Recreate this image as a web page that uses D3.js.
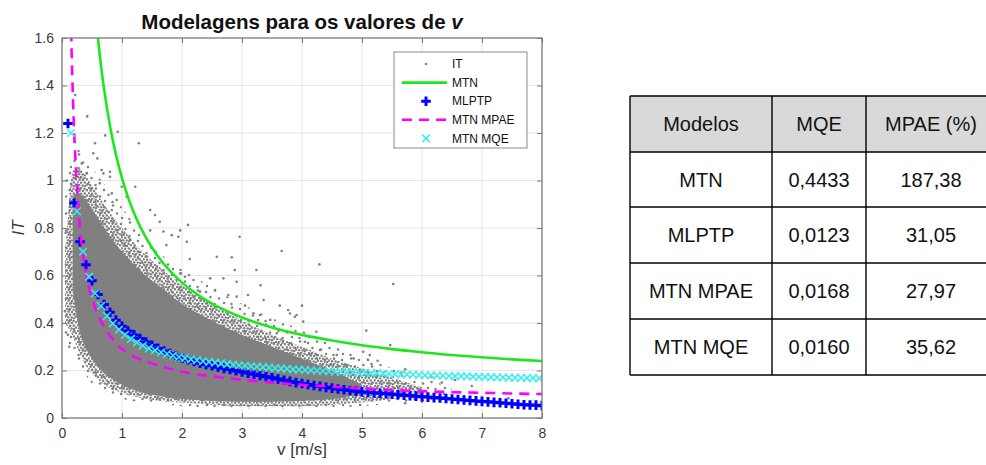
<!DOCTYPE html>
<html>
<head>
<meta charset="utf-8">
<script src="https://cdn.jsdelivr.net/npm/d3@7"></script>
<style>
  body { margin: 0; background: #fff; }
  svg { display: block; font-family: "Liberation Sans", Arial, Helvetica, sans-serif; }
</style>
</head>
<body>
<svg id="chart" width="986" height="465"></svg>
<script>
// ---------- axis ticks ----------
const xTicks = [0, 1, 2, 3, 4, 5, 6, 7, 8];
const yTicks = [0, 0.2, 0.4, 0.6, 0.8, 1, 1.2, 1.4, 1.6];
const yTickLabels = ["0", "0.2", "0.4", "0.6", "0.8", "1", "1.2", "1.4", "1.6"];

// ---------- IT measurements ----------
// thin outer fringe of the cloud
const fringeV    = [0.03, 0.10, 0.15, 0.25, 0.40, 0.60, 0.90, 1.20, 1.60, 2.00, 2.50, 3.00, 3.50, 4.00, 4.50, 5.00, 5.50, 6.00, 6.50];
const fringeLow  = [0.30, 0.30, 0.30, 0.25, 0.18, 0.12, 0.09, 0.07, 0.06, 0.05, 0.045, 0.04, 0.04, 0.04, 0.045, 0.05, 0.06, 0.07, 0.09];
const fringeHigh = [0.90, 1.00, 1.10, 1.15, 1.10, 1.02, 0.92, 0.82, 0.70, 0.63, 0.55, 0.48, 0.42, 0.37, 0.31, 0.26, 0.21, 0.17, 0.13];
// envelope of the bulk of the cloud
const cloudV    = [0.05, 0.10, 0.15, 0.20, 0.30, 0.40, 0.50, 0.70, 1.00, 1.30, 1.70, 2.00, 2.50, 3.00, 3.50, 4.00, 4.50, 5.00, 5.50, 6.00];
const cloudLow  = [0.40, 0.38, 0.36, 0.33, 0.27, 0.22, 0.19, 0.14, 0.105, 0.085, 0.07, 0.065, 0.055, 0.05, 0.05, 0.05, 0.055, 0.065, 0.08, 0.10];
const cloudHigh = [0.70, 0.85, 1.00, 1.05, 1.05, 1.02, 0.98, 0.90, 0.80, 0.71, 0.62, 0.56, 0.48, 0.41, 0.35, 0.30, 0.25, 0.21, 0.17, 0.13];
// densest part of the cloud
const coreV    = [0.18, 0.25, 0.35, 0.50, 0.70, 1.00, 1.30, 1.70, 2.00, 2.50, 3.00, 3.50, 4.00, 4.50, 5.00];
const coreLow  = [0.55, 0.42, 0.32, 0.25, 0.19, 0.14, 0.11, 0.09, 0.08, 0.072, 0.068, 0.068, 0.072, 0.08, 0.10];
const coreHigh = [0.90, 0.95, 0.93, 0.88, 0.80, 0.70, 0.62, 0.54, 0.48, 0.41, 0.35, 0.30, 0.25, 0.20, 0.14];
// isolated measurements outside the bulk
const itV  = [0.22, 0.42, 0.72, 0.93, 0.55, 0.52, 0.59, 0.33, 0.41, 0.66, 0.80, 0.22, 0.08, 0.63, 0.995, 0.49, 0.91, 0.83, 0.13, 0.41,
              1.08, 1.28, 0.80, 0.69, 1.22, 0.83, 1.47, 1.55, 1.63, 2.10, 1.97, 1.47, 1.69, 1.83, 1.94, 2.96, 2.08, 1.74, 3.66, 2.58,
              2.83, 2.13, 4.29, 2.88, 3.24, 1.97, 2.05, 2.47, 2.69, 2.91, 5.52, 3.31, 2.55, 2.30, 2.77, 3.10, 2.91, 3.36, 3.63, 3.05,
              4.00, 3.77, 3.91, 3.19, 3.47, 4.02, 4.24, 5.07, 3.80, 3.88, 3.30, 4.05, 3.58, 4.30, 4.58, 4.86, 4.74, 4.47, 5.47, 5.02,
              5.13, 5.10, 5.26, 5.16, 5.72, 6.33, 6.83, 6.16, 6.55, 5.72, 7.44, 6.00, 4.94, 5.43, 5.33, 5.60, 0.05, 0.07, 0.10, 0.06, 0.12];
const itIT = [1.36, 1.27, 1.19, 1.205, 1.157, 1.115, 1.093, 1.072, 1.03, 1.044, 1.016, 1.01, 1.00, 0.988, 0.974, 0.967, 0.918, 0.876, 0.96, 0.918,
              0.932, 1.157, 1.037, 1.03, 0.974, 0.946, 0.876, 0.855, 0.826, 0.813, 0.79, 0.79, 0.785, 0.77, 0.763, 0.763, 0.742, 0.728, 0.703, 0.679,
              0.677, 0.669, 0.647, 0.623, 0.623, 0.609, 0.595, 0.588, 0.588, 0.574, 0.564, 0.559, 0.539, 0.532, 0.518, 0.518, 0.511, 0.497, 0.473, 0.473,
              0.473, 0.455, 0.434, 0.441, 0.413, 0.406, 0.363, 0.368, 0.44, 0.426, 0.434, 0.321, 0.357, 0.286, 0.265, 0.251, 0.216, 0.223, 0.307, 0.279,
              0.265, 0.244, 0.241, 0.227, 0.205, 0.149, 0.135, 0.174, 0.16, 0.062, 0.083, 0.069, 0.167, 0.147, 0.111, 0.126, 0.45, 0.62, 0.35, 0.78, 0.30];

// ---------- MTN ----------
const mtnV  = [0.55, 0.60, 0.65, 0.70, 0.80, 0.90, 1.00, 1.10, 1.20, 1.40, 1.60, 1.80, 2.00, 2.25, 2.50, 2.75, 3.00, 3.50, 4.00, 4.50, 5.00, 5.50, 6.00, 6.50, 7.00, 7.50, 8.00];
const mtnIT = [1.73, 1.597, 1.484, 1.387, 1.23, 1.108, 1.01, 0.93, 0.863, 0.759, 0.68, 0.619, 0.57, 0.521, 0.482, 0.45, 0.423, 0.381, 0.35, 0.326, 0.306, 0.29, 0.277, 0.265, 0.256, 0.247, 0.24];

// ---------- MLPTP ----------
const mlptpV = [0.1, 0.2, 0.3, 0.4, 0.5, 0.6, 0.7, 0.8, 0.9, 1.0, 1.1, 1.2, 1.3, 1.4, 1.5, 1.6, 1.7, 1.8, 1.9, 2.0,
                2.1, 2.2, 2.3, 2.4, 2.5, 2.6, 2.7, 2.8, 2.9, 3.0, 3.1, 3.2, 3.3, 3.4, 3.5, 3.6, 3.7, 3.8, 3.9, 4.0,
                4.1, 4.2, 4.3, 4.4, 4.5, 4.6, 4.7, 4.8, 4.9, 5.0, 5.1, 5.2, 5.3, 5.4, 5.5, 5.6, 5.7, 5.8, 5.9, 6.0,
                6.1, 6.2, 6.3, 6.4, 6.5, 6.6, 6.7, 6.8, 6.9, 7.0, 7.1, 7.2, 7.3, 7.4, 7.5, 7.6, 7.7, 7.8, 7.9, 8.0];
const mlptpIT = [1.24, 0.905, 0.742, 0.645, 0.578, 0.520, 0.478, 0.445, 0.412, 0.386, 0.366, 0.350, 0.335, 0.320, 0.306, 0.293, 0.282, 0.271, 0.261, 0.252,
                 0.245, 0.238, 0.231, 0.225, 0.220, 0.214, 0.209, 0.204, 0.199, 0.194, 0.189, 0.184, 0.179, 0.174, 0.169, 0.164, 0.159, 0.154, 0.149, 0.145,
                 0.141, 0.137, 0.133, 0.129, 0.126, 0.122, 0.119, 0.116, 0.113, 0.110, 0.108, 0.106, 0.104, 0.102, 0.100, 0.098, 0.096, 0.094, 0.092, 0.090,
                 0.088, 0.086, 0.084, 0.082, 0.080, 0.078, 0.076, 0.074, 0.072, 0.070, 0.068, 0.066, 0.064, 0.062, 0.060, 0.058, 0.056, 0.055, 0.054, 0.052];

// ---------- MTN MPAE ----------
const mpaeV  = [0.145, 0.17, 0.20, 0.23, 0.26, 0.30, 0.35, 0.40, 0.45, 0.50, 0.60, 0.70, 0.80, 0.90, 1.00, 1.20, 1.40, 1.60, 1.80, 2.00,
                2.50, 3.00, 3.50, 4.00, 4.50, 5.00, 5.50, 6.00, 6.50, 7.00, 7.50, 8.00];
const mpaeIT = [1.70, 1.45, 1.22, 1.06, 0.94, 0.80, 0.69, 0.61, 0.55, 0.505, 0.435, 0.385, 0.345, 0.315, 0.290, 0.258, 0.238, 0.222, 0.207, 0.195,
                0.176, 0.161, 0.149, 0.140, 0.132, 0.124, 0.118, 0.113, 0.109, 0.106, 0.103, 0.101];

// ---------- MTN MQE ----------
const mqeV = [0.15, 0.25, 0.35, 0.45, 0.55, 0.65, 0.75, 0.85, 0.95, 1.05, 1.15, 1.25, 1.35, 1.45, 1.55, 1.65, 1.75, 1.85, 1.95, 2.05,
              2.15, 2.25, 2.35, 2.45, 2.55, 2.65, 2.75, 2.85, 2.95, 3.05, 3.15, 3.25, 3.35, 3.45, 3.55, 3.65, 3.75, 3.85, 3.95, 4.05,
              4.15, 4.25, 4.35, 4.45, 4.55, 4.65, 4.75, 4.85, 4.95, 5.05, 5.15, 5.25, 5.35, 5.45, 5.55, 5.65, 5.75, 5.85, 5.95, 6.05,
              6.15, 6.25, 6.35, 6.45, 6.55, 6.65, 6.75, 6.85, 6.95, 7.05, 7.15, 7.25, 7.35, 7.45, 7.55, 7.65, 7.75, 7.85, 7.95];
const mqeIT = [1.20, 0.87, 0.70, 0.595, 0.525, 0.472, 0.430, 0.398, 0.372, 0.350, 0.333, 0.318, 0.305, 0.294, 0.285, 0.277, 0.270, 0.263, 0.257, 0.252,
               0.247, 0.243, 0.239, 0.236, 0.233, 0.230, 0.227, 0.225, 0.222, 0.220, 0.218, 0.216, 0.214, 0.212, 0.210, 0.208, 0.207, 0.205, 0.204, 0.202,
               0.201, 0.199, 0.198, 0.197, 0.195, 0.194, 0.193, 0.192, 0.191, 0.190, 0.189, 0.188, 0.187, 0.186, 0.185, 0.184, 0.183, 0.182, 0.181, 0.180,
               0.179, 0.179, 0.178, 0.177, 0.176, 0.176, 0.175, 0.174, 0.173, 0.173, 0.172, 0.171, 0.171, 0.170, 0.169, 0.169, 0.168, 0.168, 0.167];

// ---------- error table ----------
const tableHeader = ["Modelos", "MQE", "MPAE (%)"];
const tableModels = ["MTN", "MLPTP", "MTN MPAE", "MTN MQE"];
const tableMQE    = [0.4433, 0.0123, 0.0168, 0.0160];
const tableMPAE   = [187.38, 31.05, 27.97, 35.62];

// ---------- layout ----------
const svg = d3.select("#chart");
const P = { left: 62, right: 542, top: 38, bottom: 418 };
const x = d3.scaleLinear().domain([0, 8]).range([P.left, P.right]);
const y = d3.scaleLinear().domain([0, 1.6]).range([P.bottom, P.top]);

const GRAY = "#808080", GREEN = "#1ee61e", BLUE = "#0000ff", MAGENTA = "#ff00ff", CYAN = "#33f0f0";
const AXIS = "#7a7a7a", TXT = "#3a3a3a";

const defs = svg.append("defs");
defs.append("clipPath").attr("id", "plotClip")
  .append("rect").attr("x", P.left).attr("y", P.top)
  .attr("width", P.right - P.left).attr("height", P.bottom - P.top);

// speckled fills for the thinner parts of the cloud
const addPattern = (id, size, dots) => {
  const p = defs.append("pattern").attr("id", id)
    .attr("patternUnits", "userSpaceOnUse").attr("width", size).attr("height", size);
  dots.forEach(([cx, cy]) => p.append("circle").attr("cx", cx).attr("cy", cy).attr("r", 1.25).attr("fill", GRAY));
};
addPattern("speckle", 11, [[1, 1], [4.2, 0.6], [7.6, 1.8], [10, 3.2], [2.6, 3.8], [6, 4.1], [0.6, 6.3], [4.1, 6.8], [7.8, 6.4],
                           [9.9, 8.6], [2.2, 9.2], [5.7, 9.6], [8.1, 10.2], [3.4, 2.1]]);
addPattern("sparse", 17, [[2, 3], [11, 1.5], [6.5, 8], [15, 9.5], [3, 14], [10.5, 15]]);

// ---------- grid ----------
const grid = svg.append("g").attr("stroke", "#e6e6e6").attr("stroke-width", 1);
grid.selectAll(".gx").data(xTicks.slice(1, -1)).join("line")
  .attr("x1", d => x(d)).attr("x2", d => x(d)).attr("y1", P.top).attr("y2", P.bottom);
grid.selectAll(".gy").data(yTicks.slice(1, -1)).join("line")
  .attr("y1", d => y(d)).attr("y2", d => y(d)).attr("x1", P.left).attr("x2", P.right);

// ---------- plotted data ----------
const plot = svg.append("g").attr("clip-path", "url(#plotClip)");

const band = (vs, lo, hi) => d3.area()
  .x((d, i) => x(vs[i])).y0((d, i) => y(lo[i])).y1((d, i) => y(hi[i]))
  .curve(d3.curveCatmullRom)(vs);

plot.append("path").attr("d", band(fringeV, fringeLow, fringeHigh)).attr("fill", "url(#sparse)");
plot.append("path").attr("d", band(cloudV, cloudLow, cloudHigh)).attr("fill", "url(#speckle)");
plot.append("path").attr("d", band(coreV, coreLow, coreHigh)).attr("fill", GRAY);

plot.append("g").selectAll("circle").data(itV).join("circle")
  .attr("cx", (d, i) => x(d)).attr("cy", (d, i) => y(itIT[i])).attr("r", 1.3).attr("fill", GRAY);

const line = (vs, ys) => d3.line().x((d, i) => x(vs[i])).y((d, i) => y(ys[i])).curve(d3.curveMonotoneX)(vs);

// MTN
plot.append("path").attr("d", line(mtnV, mtnIT))
  .attr("fill", "none").attr("stroke", GREEN).attr("stroke-width", 2.6);

// MLPTP plus markers
const plusPath = "M-4.8,0H4.8M0,-4.8V4.8";
plot.append("g").selectAll("path").data(mlptpV).join("path")
  .attr("transform", (d, i) => `translate(${x(d)},${y(mlptpIT[i])})`)
  .attr("d", plusPath).attr("fill", "none").attr("stroke", BLUE).attr("stroke-width", 3);

// MTN MPAE dashed
plot.append("path").attr("d", line(mpaeV, mpaeIT))
  .attr("fill", "none").attr("stroke", MAGENTA).attr("stroke-width", 2.6)
  .attr("stroke-dasharray", "10,7");

// MTN MQE x markers
const xPath = "M-3.8,-3.8L3.8,3.8M-3.8,3.8L3.8,-3.8";
plot.append("g").selectAll("path").data(mqeV).join("path")
  .attr("transform", (d, i) => `translate(${x(d)},${y(mqeIT[i])})`)
  .attr("d", xPath).attr("fill", "none").attr("stroke", CYAN).attr("stroke-width", 1.5);

// ---------- axes ----------
const fmtY = d => yTickLabels[yTicks.indexOf(d)];
const styleAxis = g => {
  g.select(".domain").remove();
  g.selectAll(".tick line").attr("stroke", AXIS).attr("stroke-width", 1);
  g.selectAll(".tick text").attr("fill", TXT).attr("font-size", 14)
    .attr("font-family", "Liberation Sans, Arial, sans-serif");
};
svg.append("g").attr("transform", `translate(0,${P.bottom})`)
  .call(d3.axisBottom(x).tickValues(xTicks).tickSizeInner(-5).tickSizeOuter(0).tickPadding(10).tickFormat(d3.format("d")))
  .call(styleAxis);
svg.append("g").attr("transform", `translate(0,${P.top})`)
  .call(d3.axisTop(x).tickValues(xTicks).tickSizeInner(-5).tickSizeOuter(0).tickFormat(""))
  .call(styleAxis);
svg.append("g").attr("transform", `translate(${P.left},0)`)
  .call(d3.axisLeft(y).tickValues(yTicks).tickSizeInner(-5).tickSizeOuter(0).tickPadding(8).tickFormat(fmtY))
  .call(styleAxis);
svg.append("g").attr("transform", `translate(${P.right},0)`)
  .call(d3.axisRight(y).tickValues(yTicks).tickSizeInner(-5).tickSizeOuter(0).tickFormat(""))
  .call(styleAxis);

svg.append("rect").attr("x", P.left).attr("y", P.top)
  .attr("width", P.right - P.left).attr("height", P.bottom - P.top)
  .attr("fill", "none").attr("stroke", AXIS).attr("stroke-width", 1.3);

// labels and title
svg.append("text").attr("x", (P.left + P.right) / 2).attr("y", 29)
  .attr("text-anchor", "middle").attr("font-size", 20.5).attr("font-weight", "bold").attr("fill", "#111")
  .text("Modelagens para os valores de ")
  .append("tspan").attr("font-style", "italic").text("v");
svg.append("text").attr("x", (P.left + P.right) / 2).attr("y", 455)
  .attr("text-anchor", "middle").attr("font-size", 17).attr("fill", TXT).text("v [m/s]");
svg.append("text").attr("transform", `translate(24,${(P.top + P.bottom) / 2}) rotate(-90)`)
  .attr("text-anchor", "middle").attr("font-size", 17).attr("font-style", "italic").attr("fill", TXT).text("IT");

// ---------- legend ----------
const L = { x: 394, y: 52, w: 133, h: 96 };
const lg = svg.append("g");
lg.append("rect").attr("x", L.x).attr("y", L.y).attr("width", L.w).attr("height", L.h)
  .attr("fill", "#fff").attr("stroke", "#8a8a8a").attr("stroke-width", 1);
const legendNames = ["IT", "MTN", "MLPTP", "MTN MPAE", "MTN MQE"];
const rowY = i => 64 + i * 18.6;
const sx0 = 402, sx1 = 447, sxm = 426;
lg.append("circle").attr("cx", sxm).attr("cy", rowY(0)).attr("r", 1.3).attr("fill", GRAY);
lg.append("line").attr("x1", sx0).attr("x2", sx1).attr("y1", rowY(1)).attr("y2", rowY(1))
  .attr("stroke", GREEN).attr("stroke-width", 2.6);
lg.append("path").attr("transform", `translate(${sxm},${rowY(2)})`).attr("d", plusPath)
  .attr("stroke", BLUE).attr("stroke-width", 3).attr("fill", "none");
lg.append("line").attr("x1", sx0).attr("x2", sx1).attr("y1", rowY(3)).attr("y2", rowY(3))
  .attr("stroke", MAGENTA).attr("stroke-width", 2.6).attr("stroke-dasharray", "10,7");
lg.append("path").attr("transform", `translate(${sxm},${rowY(4)})`).attr("d", xPath)
  .attr("stroke", CYAN).attr("stroke-width", 1.5).attr("fill", "none");
lg.selectAll("text").data(legendNames).join("text")
  .attr("x", 452).attr("y", (d, i) => rowY(i) + 4.2)
  .attr("font-size", 12).attr("fill", "#111").text(d => d);

// ---------- table ----------
const colX = [630, 772, 866, 996];
const rowEdges = [96, 152, 207, 263, 319, 375];
const tbl = svg.append("g");
tbl.append("rect").attr("x", colX[0]).attr("y", rowEdges[0])
  .attr("width", colX[3] - colX[0]).attr("height", rowEdges[1] - rowEdges[0]).attr("fill", "#d9d9d9");
tbl.selectAll(".h").data(rowEdges).join("line")
  .attr("x1", colX[0]).attr("x2", colX[3]).attr("y1", d => d).attr("y2", d => d)
  .attr("stroke", "#000").attr("stroke-width", 1.4);
tbl.selectAll(".v").data(colX).join("line")
  .attr("y1", rowEdges[0]).attr("y2", rowEdges[5]).attr("x1", d => d).attr("x2", d => d)
  .attr("stroke", "#000").attr("stroke-width", 1.4);
const fmtComma = (v, n) => v.toFixed(n).replace(".", ",");
const cells = [tableHeader].concat(tableModels.map((m, i) => [m, fmtComma(tableMQE[i], 4), fmtComma(tableMPAE[i], 2)]));
cells.forEach((row, r) => {
  row.forEach((txt, c) => {
    tbl.append("text")
      .attr("x", (colX[c] + colX[c + 1]) / 2)
      .attr("y", (rowEdges[r] + rowEdges[r + 1]) / 2 + 7)
      .attr("text-anchor", "middle").attr("font-size", 20).attr("fill", "#111").text(txt);
  });
});
</script>
</body>
</html>
